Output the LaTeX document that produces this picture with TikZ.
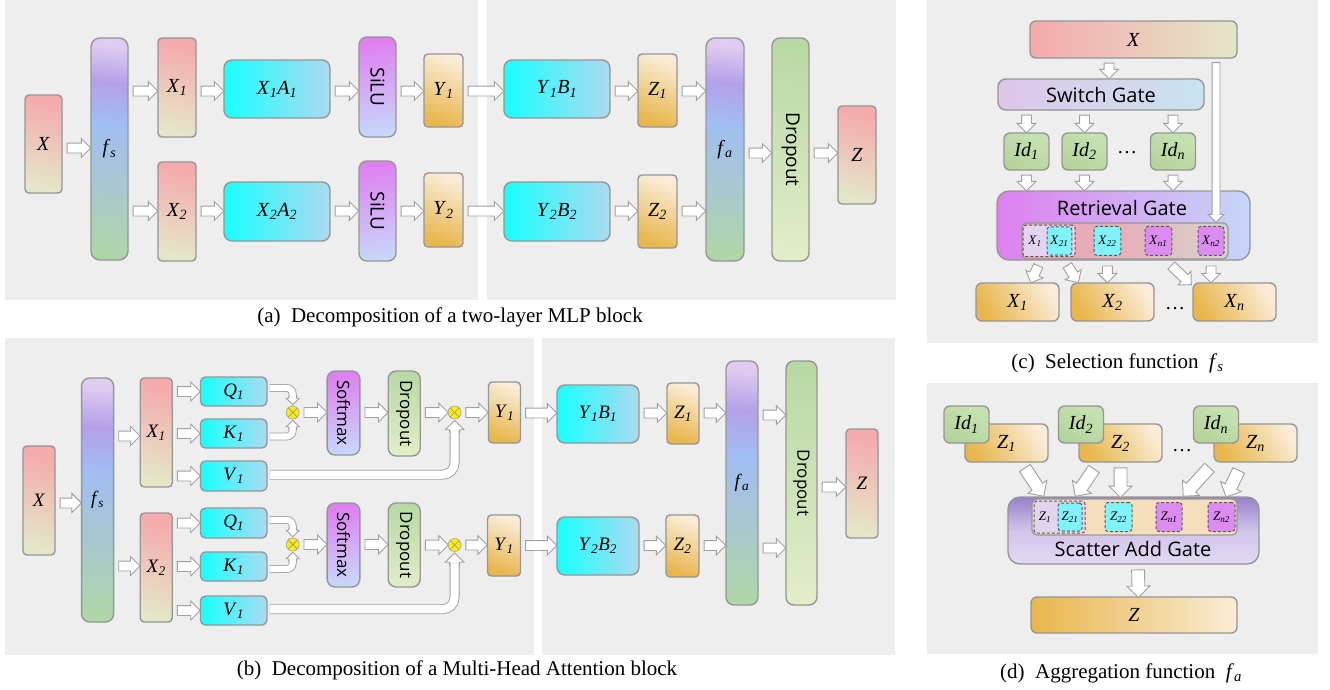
\documentclass[tikz,border=0pt]{standalone}
\usepackage{fontspec}
\usepackage{graphicx}
\setmainfont{Liberation Serif}
\newfontfamily\osans{Open Sans}
\usetikzlibrary{shapes.arrows,calc}
\definecolor{bgc}{RGB}{238,238,238}
\definecolor{bd}{RGB}{150,150,150}
\definecolor{ab}{RGB}{160,160,160}
\definecolor{pk}{RGB}{245,170,172}
\definecolor{pkb}{RGB}{228,230,200}
\definecolor{cya}{RGB}{25,255,255}
\definecolor{cyb}{RGB}{172,218,240}
\definecolor{via}{RGB}{222,128,240}
\definecolor{vib}{RGB}{200,214,250}
\definecolor{ora}{RGB}{250,236,214}
\definecolor{orb}{RGB}{232,182,76}
\definecolor{gra}{RGB}{184,217,164}
\definecolor{grb}{RGB}{226,237,200}
\definecolor{rgreen}{RGB}{174,214,168}
\definecolor{rteal}{RGB}{170,200,206}
\definecolor{rblue}{RGB}{160,190,242}
\definecolor{rpurp}{RGB}{180,160,232}
\definecolor{rlav}{RGB}{224,204,240}
\definecolor{idA}{RGB}{198,226,178}
\definecolor{idB}{RGB}{180,212,156}
\definecolor{sgL}{RGB}{222,198,234}
\definecolor{sgR}{RGB}{200,228,238}
\definecolor{rgL}{RGB}{222,128,238}
\definecolor{rgR}{RGB}{198,214,248}
\definecolor{brL}{RGB}{236,162,178}
\definecolor{brM}{RGB}{230,176,186}
\definecolor{brR}{RGB}{214,214,204}
\definecolor{lav}{RGB}{226,212,238}
\definecolor{cyn}{RGB}{128,242,250}
\definecolor{mag}{RGB}{220,140,240}
\definecolor{scT}{RGB}{150,128,200}
\definecolor{scM}{RGB}{208,196,234}
\definecolor{scB}{RGB}{226,218,242}
\definecolor{cbar}{RGB}{244,222,188}
\definecolor{yel}{RGB}{255,238,0}
\definecolor{db}{RGB}{90,90,90}
\pgfdeclareverticalshading{rainb}{100bp}{color(0bp)=(rgreen); color(25bp)=(rgreen); color(40bp)=(rteal); color(56bp)=(rblue); color(66bp)=(rpurp); color(75bp)=(rlav); color(100bp)=(rlav)}
\newcommand\vsub[2]{\textit{#1}\textsubscript{\textit{#2}}}
\newcommand\lblA{\fontsize{20}{24}\selectfont}
\newcommand\lblB{\fontsize{19}{22}\selectfont}
\newcommand\lblS{\fontsize{13}{15}\selectfont}
\newcommand\sfA{\osans\fontsize{19}{22}\selectfont}
\newcommand\sfB{\osans\fontsize{17}{20}\selectfont}
\newcommand\sfC{\osans\fontsize{20}{24}\selectfont}
\newcommand\capf{\fontsize{21}{25}\selectfont}
\newcounter{farr}
\newcommand\farrow[3][fat]{\stepcounter{farr}%
 \path let \p1=(#2), \p2=(#3), \n1={atan2(\y2-\y1,\x2-\x1)}, \n2={veclen(\x2-\x1,\y2-\y1)-4pt} in
 node[#1, rotate=\n1, minimum height={\n2}] (arr\arabic{farr}) at ($(\p1)!0.5!(\p2)$) {};}
\begin{document}
\begin{tikzpicture}[x=1pt,y=-1pt,
 box/.style={draw=bd, line width=1.4pt, rounded corners=4pt, inner sep=0pt, font=\lblA},
 pinkb/.style={box, top color=pk, bottom color=pkb, shading angle=-15},
 rainbow/.style={box, rounded corners=9pt, shade, shading=rainb, shading angle=-5},
 cyanb/.style={box, rounded corners=8pt, left color=cya, right color=cyb},
 violb/.style={box, rounded corners=8pt, top color=via, bottom color=vib, shading angle=8},
 orb/.style={box, top color=ora, bottom color=orb, shading angle=-20},
 orw/.style={box, rounded corners=6pt, top color=ora, bottom color=orb, shading angle=-60},
 grnb/.style={box, rounded corners=8pt, top color=gra, bottom color=grb, shading angle=-3},
 idb/.style={box, rounded corners=6pt, minimum width=45pt, minimum height=37pt, top color=idA, bottom color=idB, shading angle=-30},
 fat/.style={single arrow, draw=ab, fill=white, line width=0.9pt, inner xsep=0pt, inner ysep=4.5pt, single arrow head extend=4.5pt, single arrow tip angle=90, single arrow head indent=0pt, text height=0pt, text depth=0pt, minimum width=0pt, outer sep=0pt},
 fats/.style={fat, inner ysep=3.5pt, single arrow head extend=2.5pt},
 fatl/.style={fat, inner ysep=3.5pt, single arrow head extend=4pt},
 fatb/.style={fat, inner ysep=6pt, single arrow head extend=5pt},
 dsh/.style={draw=ab, line width=0.9pt, double=white, double distance=6.1pt},
 dshm/.style={draw=ab, line width=0.9pt, double=white, double distance=8.1pt},
 otm/.style={circle, draw=ab, fill=yel, minimum size=13pt, inner sep=0pt, line width=0.6pt, path picture={\draw[ab, line width=0.8pt] (path picture bounding box.south west) -- (path picture bounding box.north east) (path picture bounding box.north west) -- (path picture bounding box.south east);}},
 dbox/.style={draw=db, dashed, dash pattern=on 3pt off 2pt, line width=1pt, rounded corners=3pt, inner sep=0pt, font=\lblS},
]
\useasboundingbox (0,0) rectangle (1330,689);
% backgrounds
\fill[bgc] (5,0) rectangle (478,300);
\fill[bgc] (487,0) rectangle (896,300);
\fill[bgc] (5,338) rectangle (534,655);
\fill[bgc] (542,338) rectangle (895,655);
\fill[bgc] (927,0) rectangle (1318,343);
\fill[bgc] (927,383) rectangle (1318,654);

% ================= panel (a)
\node[pinkb, minimum width=37pt, minimum height=98pt] (aX) at (43.5,144) {\textit{X}};
\node[rainbow, minimum width=37pt, minimum height=222pt] (afs) at (109.5,149) {\vsub{f}{s}};
\node[pinkb, minimum width=38pt, minimum height=99pt] (aX1) at (177,87.5) {\vsub{X}{1}};
\node[pinkb, minimum width=38pt, minimum height=99pt] (aX2) at (177,211.5) {\vsub{X}{2}};
\node[cyanb, minimum width=106pt, minimum height=58pt] (aA1) at (277,89) {\vsub{X}{1}\vsub{A}{1}};
\node[cyanb, minimum width=106pt, minimum height=59pt] (aA2) at (277,211.5) {\vsub{X}{2}\vsub{A}{2}};
\node[violb, minimum width=37pt, minimum height=100pt] (aS1) at (377.5,87) {\rotatebox{-90}{\sfA SiLU}};
\node[violb, minimum width=37pt, minimum height=100pt] (aS2) at (377.5,211) {\rotatebox{-90}{\sfA SiLU}};
\node[orb, minimum width=39pt, minimum height=73pt] (aY1) at (443.5,90.5) {\vsub{Y}{1}};
\node[orb, minimum width=39pt, minimum height=74pt] (aY2) at (443.5,210) {\vsub{Y}{2}};
\node[cyanb, minimum width=106pt, minimum height=58pt] (aB1) at (557,89) {\vsub{Y}{1}\vsub{B}{1}};
\node[cyanb, minimum width=106pt, minimum height=59pt] (aB2) at (557,211.5) {\vsub{Y}{2}\vsub{B}{2}};
\node[orb, minimum width=39pt, minimum height=73pt] (aZ1) at (657.5,90.5) {\vsub{Z}{1}};
\node[orb, minimum width=39pt, minimum height=73pt] (aZ2) at (657.5,211.5) {\vsub{Z}{2}};
\node[rainbow, minimum width=38pt, minimum height=223pt] (afa) at (725,149.5) {\vsub{f}{a}};
\node[grnb, minimum width=37pt, minimum height=223pt] (aD) at (790.5,149.5) {\rotatebox{-90}{\sfA Dropout}};
\node[pinkb, minimum width=38pt, minimum height=98pt] (aZ) at (857,155) {\textit{Z}};
\coordinate (ya0) at (0,148);
\coordinate (ya1) at (0,91);
\coordinate (ya2) at (0,211);
\coordinate (ya3) at (0,153);
\farrow{aX.east |- ya0}{afs.west |- ya0}
\farrow{afs.east |- ya1}{aX1.west |- ya1}
\farrow{afs.east |- ya2}{aX2.west |- ya2}
\farrow{aX1.east |- ya1}{aA1.west |- ya1}
\farrow{aX2.east |- ya2}{aA2.west |- ya2}
\farrow{aA1.east |- ya1}{aS1.west |- ya1}
\farrow{aA2.east |- ya2}{aS2.west |- ya2}
\farrow{aS1.east |- ya1}{aY1.west |- ya1}
\farrow{aS2.east |- ya2}{aY2.west |- ya2}
\farrow{aY1.east |- ya1}{aB1.west |- ya1}
\farrow{aY2.east |- ya2}{aB2.west |- ya2}
\farrow{aB1.east |- ya1}{aZ1.west |- ya1}
\farrow{aB2.east |- ya2}{aZ2.west |- ya2}
\farrow{aZ1.east |- ya1}{afa.west |- ya1}
\farrow{aZ2.east |- ya2}{afa.west |- ya2}
\farrow{afa.east |- ya3}{aD.west |- ya3}
\farrow{aD.east |- ya3}{aZ.west |- ya3}
\node[font=\capf] (capA) at (450,317) {(a)\ \ Decomposition of a two-layer MLP block};

% ================= panel (b)
\node[pinkb, font=\lblB, minimum width=32pt, minimum height=109pt] (bX) at (39,500.5) {\textit{X}};
\node[rainbow, font=\lblB, rounded corners=8pt, minimum width=32pt, minimum height=244pt] (bfs) at (97.6,500) {\vsub{f}{s}};
\node[pinkb, font=\lblB, minimum width=32pt, minimum height=109pt] (bX1) at (156.2,432.5) {\vsub{X}{1}};
\node[pinkb, font=\lblB, minimum width=32pt, minimum height=109pt] (bX2) at (156.2,567.5) {\vsub{X}{2}};
\node[cyanb, font=\lblB, rounded corners=5pt, minimum width=66.5pt, minimum height=29pt] (bQ1) at (233.7,391.5) {\vsub{Q}{1}};
\node[cyanb, font=\lblB, rounded corners=5pt, minimum width=66.5pt, minimum height=29pt] (bK1) at (233.7,433.5) {\vsub{K}{1}};
\node[cyanb, font=\lblB, rounded corners=5pt, minimum width=66.5pt, minimum height=30pt] (bV1) at (233.7,476) {\vsub{V}{1}};
\node[cyanb, font=\lblB, rounded corners=5pt, minimum width=66.5pt, minimum height=30pt] (bQ2) at (233.7,523) {\vsub{Q}{1}};
\node[cyanb, font=\lblB, rounded corners=5pt, minimum width=66.5pt, minimum height=29pt] (bK2) at (233.7,566.5) {\vsub{K}{1}};
\node[cyanb, font=\lblB, rounded corners=5pt, minimum width=66.5pt, minimum height=29pt] (bV2) at (233.7,610.5) {\vsub{V}{1}};
\node[otm] (bm1) at (292.7,412.5) {};
\node[otm] (bm2) at (454.6,412.5) {};
\node[otm] (bm3) at (292.7,544.5) {};
\node[otm] (bm4) at (454.6,545) {};
\node[violb, minimum width=32.7pt, minimum height=84pt] (bS1) at (343.5,413) {\rotatebox{-90}{\sfB Softmax}};
\node[violb, minimum width=32.7pt, minimum height=84pt] (bS2) at (343.5,545) {\rotatebox{-90}{\sfB Softmax}};
\node[grnb, minimum width=32pt, minimum height=85pt] (bD1) at (404.2,413.5) {\rotatebox{-90}{\sfB Dropout}};
\node[grnb, minimum width=32pt, minimum height=84pt] (bD2) at (404.2,545) {\rotatebox{-90}{\sfB Dropout}};
\node[orb, font=\lblB, minimum width=32pt, minimum height=61pt] (bY1) at (504.5,412.5) {\vsub{Y}{1}};
\node[orb, font=\lblB, minimum width=33pt, minimum height=61pt] (bY2) at (504,545.5) {\vsub{Y}{1}};
\node[cyanb, font=\lblB, minimum width=82pt, minimum height=58pt] (bB1) at (598,414) {\vsub{Y}{1}\vsub{B}{1}};
\node[cyanb, font=\lblB, minimum width=82pt, minimum height=58pt] (bB2) at (598,546) {\vsub{Y}{2}\vsub{B}{2}};
\node[orb, font=\lblB, minimum width=32pt, minimum height=61pt] (bZ1) at (683,413.5) {\vsub{Z}{1}};
\node[orb, font=\lblB, minimum width=33pt, minimum height=62pt] (bZ2) at (682.5,546) {\vsub{Z}{2}};
\node[rainbow, font=\lblB, rounded corners=8pt, minimum width=32pt, minimum height=244pt] (bfa) at (742,483) {\vsub{f}{a}};
\node[grnb, minimum width=31pt, minimum height=244pt] (bD) at (801.5,483) {\rotatebox{-90}{\sfB Dropout}};
\node[pinkb, font=\lblB, minimum width=32pt, minimum height=109pt] (bZ) at (862,483.5) {\textit{Z}};
\coordinate (yb0) at (0,503);
\coordinate (yb1) at (0,436);
\coordinate (yb2) at (0,566);
\coordinate (yr1) at (0,413);
\coordinate (yr2) at (0,545.5);
\coordinate (yf1) at (0,415);
\coordinate (yf2) at (0,548);
\coordinate (yz) at (0,487);
\farrow{bX.east |- yb0}{bfs.west |- yb0}
\farrow{bfs.east |- yb1}{bX1.west |- yb1}
\farrow{bfs.east |- yb2}{bX2.west |- yb2}
\farrow{bX1.east |- bQ1}{bQ1.west}
\farrow{bX1.east |- bK1}{bK1.west}
\farrow{bX1.east |- bV1}{bV1.west}
\farrow{bX2.east |- bQ2}{bQ2.west}
\farrow{bX2.east |- bK2}{bK2.west}
\farrow{bX2.east |- bV2}{bV2.west}
\farrow{bm1.east}{bS1.west |- bm1.east}
\farrow{bS1.east |- bm1}{bD1.west |- bm1}
\farrow{bD1.east |- bm2}{bm2.west}
\farrow{bm2.east}{bY1.west |- bm2.east}
\farrow{bm3.east}{bS2.west |- bm3.east}
\farrow{bS2.east |- bm3}{bD2.west |- bm3}
\farrow{bD2.east |- bm4}{bm4.west}
\farrow{bm4.east}{bY2.west |- bm4.east}
\farrow{bY1.east |- yr1}{bB1.west |- yr1}
\farrow{bB1.east |- yr1}{bZ1.west |- yr1}
\farrow{bZ1.east |- yr1}{bfa.west |- yr1}
\farrow{bY2.east |- yr2}{bB2.west |- yr2}
\farrow{bB2.east |- yr2}{bZ2.west |- yr2}
\farrow{bZ2.east |- yr2}{bfa.west |- yr2}
\farrow{bfa.east |- yf1}{bD.west |- yf1}
\farrow{bfa.east |- yf2}{bD.west |- yf2}
\farrow{bD.east |- yz}{bZ.west |- yz}
% curved arrows into the products
\node[fats, rotate=-90, minimum height=9pt, anchor=tip] (hq1) at ([yshift=1pt]bm1.north) {};
\draw[dsh, rounded corners=6pt] ([xshift=2pt,yshift=3.5pt]bQ1.east) -| ([yshift=-1.5pt]hq1.tail);
\node[fats, rotate=90, minimum height=9pt, anchor=tip] (hk1) at ([yshift=-1pt]bm1.south) {};
\draw[dsh, rounded corners=6pt] ([xshift=2pt,yshift=-3pt]bK1.east) -| ([yshift=1.5pt]hk1.tail);
\node[fat, rotate=90, minimum height=12pt, anchor=tip] (hv1) at ([yshift=-1pt]bm2.south) {};
\draw[dshm, rounded corners=12pt] ([xshift=2pt,yshift=1.3pt]bV1.east) -| ([yshift=1.5pt]hv1.tail);
\node[fats, rotate=-90, minimum height=9pt, anchor=tip] (hq2) at ([yshift=1pt]bm3.north) {};
\draw[dsh, rounded corners=6pt] ([xshift=2pt,yshift=3pt]bQ2.east) -| ([yshift=-1.5pt]hq2.tail);
\node[fats, rotate=90, minimum height=9pt, anchor=tip] (hk2) at ([yshift=-1pt]bm3.south) {};
\draw[dsh, rounded corners=6pt] ([xshift=2pt,yshift=-2.5pt]bK2.east) -| ([yshift=1.5pt]hk2.tail);
\node[fat, rotate=90, minimum height=12pt, anchor=tip] (hv2) at ([yshift=-1pt]bm4.south) {};
\draw[dshm, rounded corners=12pt] ([xshift=2pt,yshift=1.3pt]bV2.east) -| ([yshift=1.5pt]hv2.tail);
\node[font=\capf] (capB) at (457,670) {(b)\ \ Decomposition of a Multi-Head Attention block};

% ================= panel (c)
\node[box, rounded corners=6pt, minimum width=207pt, minimum height=37pt, left color=pk, right color=pkb] (cX) at (1133.5,39.5) {\textit{X}};
\node[box, rounded corners=8pt, minimum width=206pt, minimum height=31pt, left color=sgL, right color=sgR, font=\sfC] (cSG) at (1101,94.5) {Switch Gate};
\node[idb] (cI1) at (1026.5,151.5) {\vsub{Id}{1}};
\node[idb] (cI2) at (1084.5,151.5) {\vsub{Id}{2}};
\node[idb] (cIn) at (1173,151.5) {\vsub{Id}{n}};
\node[font=\lblA] (cdots1) at (1127,153) {\dots};
\node[box, rounded corners=12pt, minimum width=253pt, minimum height=69pt, left color=rgL, right color=rgR] (cRG) at (1123.5,225.5) {};
\node[font=\sfC] (cRGt) at (1122,207.5) {Retrieval Gate};
\node[draw=bd, line width=1.2pt, rounded corners=5pt, left color=brL, right color=brR, middle color=brM, minimum width=206pt, minimum height=36pt, inner sep=0pt] (cBar) at (1124.9,240.9) {};
\node[dbox, fill=lav, minimum width=52pt, minimum height=31.5pt] (cg1) at (1049,240.9) {};
\node[font=\lblS] (cx1t) at (1035,241) {\vsub{X}{1}};
\node[dbox, fill=cyn, minimum width=24.7pt, minimum height=28.3pt] (cx21) at (1059.4,240.9) {\vsub{X}{21}};
\node[dbox, fill=cyn, minimum width=26.7pt, minimum height=29pt] (cx22) at (1107.4,240.9) {\vsub{X}{22}};
\node[dbox, fill=mag, minimum width=26.7pt, minimum height=29pt] (cxn1) at (1158.4,240.9) {\vsub{X}{n1}};
\node[dbox, fill=mag, minimum width=26pt, minimum height=29pt] (cxn2) at (1211,240.9) {\vsub{X}{n2}};
\node[orw, minimum width=83pt, minimum height=38pt] (cY1) at (1017.5,302) {\vsub{X}{1}};
\node[orw, minimum width=83pt, minimum height=38pt] (cY2) at (1112.5,302) {\vsub{X}{2}};
\node[orw, minimum width=83pt, minimum height=38pt] (cYn) at (1234.5,302) {\vsub{X}{n}};
\node[font=\lblA] (cdots2) at (1175,309) {\dots};
\coordinate (xa) at (1109,0);
\coordinate (xl) at (1216,0);
\farrow{cX.south -| xa}{cSG.north -| xa}
\farrow{cSG.south -| cI1}{cI1.north}
\farrow{cSG.south -| cI2}{cI2.north}
\farrow{cSG.south -| cIn}{cIn.north}
\farrow{cI1.south}{cRG.north -| cI1}
\farrow{cI2.south}{cRG.north -| cI2}
\farrow{cIn.south}{cRG.north -| cIn}
\farrow[fatl]{cX.south -| xl}{cBar.north -| xl}
\farrow{[xshift=-9pt,yshift=-4.4pt]cg1.south}{[xshift=13.5pt]cY1.north}
\farrow{[xshift=16pt,yshift=-4.4pt]cg1.south}{[xshift=-34.5pt]cY2.north}
\farrow{[yshift=-5.6pt]cx22.south}{cY2.north -| cx22.south}
\farrow{[xshift=9.6pt,yshift=-6.6pt]cxn1.south}{[xshift=-43.5pt,yshift=-2pt]cYn.north}
\farrow{[yshift=-5.6pt]cxn2.south}{cYn.north -| cxn2.south}
\node[font=\capf] (capC) at (1117.5,363) {(c)\ \ Selection function\ \ \vsub{f}{s}};

% ================= panel (d)
\node[orw, minimum width=83pt, minimum height=38pt] (dZ1) at (1006.5,443) {\vsub{Z}{1}};
\node[idb] (dI1) at (966.5,424.5) {\vsub{Id}{1}};
\node[orw, minimum width=83pt, minimum height=38pt] (dZ2) at (1120.5,443) {\vsub{Z}{2}};
\node[idb] (dI2) at (1081,424.5) {\vsub{Id}{2}};
\node[orw, minimum width=83pt, minimum height=38pt] (dZn) at (1255.5,443) {\vsub{Z}{n}};
\node[idb] (dIn) at (1216,424.5) {\vsub{Id}{n}};
\node[font=\lblA] (ddots) at (1182,451) {\dots};
\node[box, rounded corners=12pt, minimum width=251pt, minimum height=67pt, top color=scT, bottom color=scB, middle color=scM] (dSG) at (1133.5,530.5) {};
\node[font=\sfC] (dSGt) at (1133,549) {Scatter Add Gate};
\node[draw=bd, line width=1.2pt, rounded corners=5pt, fill=cbar, minimum width=205pt, minimum height=36pt, inner sep=0pt] (dBar) at (1134.5,517) {};
\node[dbox, fill=lav, minimum width=51pt, minimum height=32pt] (dg1) at (1059.5,517) {};
\node[font=\lblS] (dz1t) at (1045,517) {\vsub{Z}{1}};
\node[dbox, fill=cyn, minimum width=24pt, minimum height=28pt] (dz21) at (1070,517) {\vsub{Z}{21}};
\node[dbox, fill=cyn, minimum width=27pt, minimum height=29pt] (dz22) at (1118.5,517) {\vsub{Z}{22}};
\node[dbox, fill=mag, minimum width=26pt, minimum height=29pt] (dzn1) at (1169,517) {\vsub{Z}{n1}};
\node[dbox, fill=mag, minimum width=27pt, minimum height=29pt] (dzn2) at (1221.5,517) {\vsub{Z}{n2}};
\node[box, rounded corners=6pt, minimum width=206pt, minimum height=36pt, left color=orb, right color=ora] (dZ) at (1134,615) {\textit{Z}};
\farrow[fatb]{[xshift=15.5pt,yshift=-1pt]dZ1.south}{[xshift=-90.5pt,yshift=1pt]dSG.north}
\farrow[fatb]{[xshift=-23.5pt,yshift=-2pt]dZ2.south}{[xshift=-57.5pt,yshift=1pt]dSG.north}
\farrow[fatb]{dZ2.south}{dSG.north -| dZ2.south}
\farrow[fatb]{[xshift=-42.5pt,yshift=-1pt]dZn.south}{[xshift=50.5pt,yshift=1pt]dSG.north}
\farrow[fatb]{[xshift=-14.5pt,yshift=-3pt]dZn.south}{[xshift=93pt,yshift=0.5pt]dSG.north}
\farrow[fatb]{[xshift=4.5pt]dSG.south}{[xshift=4.5pt]dZ.north}
\node[font=\capf] (capD) at (1121,673) {(d)\ \ Aggregation function\ \ \vsub{f}{a}};
\end{tikzpicture}
\end{document}
